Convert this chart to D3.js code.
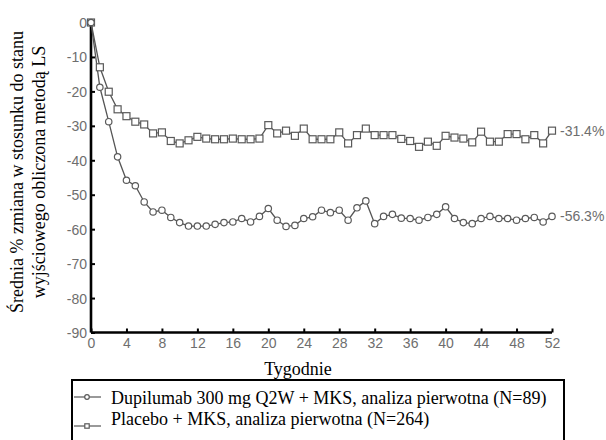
<!DOCTYPE html>
<html lang="pl">
<head>
  <meta charset="UTF-8">
  <title>Dupilumab vs placebo - % zmiana</title>
  <script src="https://d3js.org/d3.v7.min.js"></script>
  <style>
    body { margin: 0; background: #fff; }
    .line { fill: none; stroke: #555; stroke-width: 1.3px; }
    .mark { fill: #fff; stroke: #5a5a5a; stroke-width: 1.2px; }
    .tick-label { font: 14px "Liberation Sans", Arial, sans-serif; fill: #6e6e6e; }
  </style>
</head>
<body>
  <svg width="606" height="440"></svg>
  <script>
    // data
    var weeks = d3.range(0, 53);
    var xTicks = [0, 4, 8, 12, 16, 20, 24, 28, 32, 36, 40, 44, 48, 52];
    var yTicks = [0, -10, -20, -30, -40, -50, -60, -70, -80, -90];
    var dupilumab = [0, -18.8, -28.8, -39.0, -45.8, -47.4, -52.1, -55.0, -54.5, -56.6,
      -58.1, -59.1, -59.1, -59.1, -58.6, -58.1, -57.9, -56.9, -57.9, -56.3,
      -54.0, -57.4, -59.2, -58.9, -56.9, -56.4, -54.5, -55.2, -54.5, -57.4,
      -53.8, -51.8, -58.4, -56.3, -55.7, -56.8, -56.9, -57.4, -56.6, -55.7,
      -53.5, -56.9, -58.1, -58.4, -56.9, -56.3, -56.9, -56.9, -57.4, -56.9,
      -56.6, -57.9, -56.3];
    var placebo = [0, -13.0, -20.1, -25.2, -27.2, -28.8, -29.6, -32.2, -31.9, -34.4,
      -35.1, -34.2, -33.2, -33.7, -33.9, -33.9, -33.7, -33.9, -33.9, -33.7,
      -29.8, -32.2, -31.4, -32.9, -30.8, -33.9, -33.9, -33.9, -31.9, -35.1,
      -32.7, -30.8, -32.7, -32.7, -32.7, -33.8, -34.4, -36.1, -34.6, -35.8,
      -32.9, -33.4, -33.7, -34.8, -31.7, -34.6, -34.6, -32.4, -32.4, -33.9,
      -32.7, -35.1, -31.4];
    var endLabels = ["-56.3%", "-31.4%"];
    var legendLabels = ["Dupilumab 300 mg Q2W + MKS, analiza pierwotna (N=89)",
                        "Placebo + MKS, analiza pierwotna (N=264)"];
    var yTitle = ["Średnia % zmiana w stosunku do stanu", "wyjściowego obliczona metodą LS"];

    var serif = '"Liberation Serif", "Times New Roman", Times, serif';
    var svg = d3.select("svg");
    var x = d3.scaleLinear().domain([0, 52]).range([91, 552]);
    var y = d3.scaleLinear().domain([-90, 0]).range([332.5, 22.5]);

    // axes
    var yAxis = svg.append("g")
        .attr("transform", "translate(" + x(0) + ",0)")
        .call(d3.axisLeft(y).tickValues(yTicks).tickSize(-4));
    var xAxis = svg.append("g")
        .attr("transform", "translate(0," + y(-90) + ")")
        .call(d3.axisBottom(x).tickValues(xTicks).tickSize(-4));
    [xAxis, yAxis].forEach(function(a) {
      a.attr("font-family", null).attr("font-size", null);
      a.select(".domain").attr("stroke", "#000").attr("stroke-width", 2.6);
      a.selectAll(".tick line").attr("stroke", "#000").attr("stroke-width", 2);
      a.selectAll(".tick text").attr("class", "tick-label").attr("fill", null);
    });
    yAxis.selectAll(".tick text").attr("x", -4).attr("dy", "0.36em").text(function(d) { return String(d); });
    xAxis.selectAll(".tick text").attr("y", 6).attr("dy", "0.71em");
    yAxis.select(".domain").attr("d", "M0," + y(-90) + "V" + (y(0) - 1));
    xAxis.select(".domain").attr("d", "M" + x(0) + ",0H" + x(52));

    // lines
    var line = d3.line().x(function(d, i) { return x(weeks[i]); }).y(function(d) { return y(d); });
    svg.append("path").datum(placebo).attr("class", "line").attr("d", line);
    svg.append("path").datum(dupilumab).attr("class", "line").attr("d", line);

    svg.selectAll(".sq").data(placebo).enter().append("rect")
        .attr("class", "mark")
        .attr("x", function(d, i) { return x(weeks[i]) - 3.5; })
        .attr("y", function(d) { return y(d) - 3.5; })
        .attr("width", 7).attr("height", 7);
    svg.selectAll(".ci").data(dupilumab).enter().append("circle")
        .attr("class", "mark")
        .attr("cx", function(d, i) { return x(weeks[i]); })
        .attr("cy", function(d) { return y(d); })
        .attr("r", 3.2);

    // end labels
    [dupilumab, placebo].forEach(function(s, k) {
      svg.append("text").attr("class", "tick-label")
          .attr("x", x(52) + 8).attr("y", y(s[s.length - 1])).attr("dy", "0.36em")
          .text(endLabels[k]);
    });

    // axis titles
    svg.append("text").style("font-family", serif).style("font-size", "18px")
        .attr("x", 298).attr("y", 375).attr("text-anchor", "middle").text("Tygodnie");
    yTitle.forEach(function(t, i) {
      svg.append("text").style("font-family", serif).style("font-size", "18px")
          .attr("transform", "translate(" + (23 + i * 22) + ",172) rotate(-90)")
          .attr("text-anchor", "middle").text(t);
    });

    // legend
    svg.append("rect").attr("x", 72).attr("y", 380).attr("width", 492).attr("height", 70)
        .attr("fill", "none").attr("stroke", "#000").attr("stroke-width", 2);
    var legY = [397, 426];
    legendLabels.forEach(function(t, i) {
      var g = svg.append("g");
      g.append("line").attr("x1", 74).attr("x2", 101).attr("y1", legY[i]).attr("y2", legY[i])
          .attr("stroke", "#555").attr("stroke-width", 1.2);
      if (i === 0) {
        g.append("circle").attr("class", "mark").attr("cx", 87).attr("cy", legY[i]).attr("r", 2.3);
      } else {
        g.append("rect").attr("class", "mark").attr("x", 84.8).attr("y", legY[i] - 2.2).attr("width", 4.4).attr("height", 4.4);
      }
      g.append("text").style("font-family", serif).style("font-size", "18px")
          .attr("x", 111).attr("y", [404, 425][i]).text(t);
    });
  </script>
</body>
</html>
